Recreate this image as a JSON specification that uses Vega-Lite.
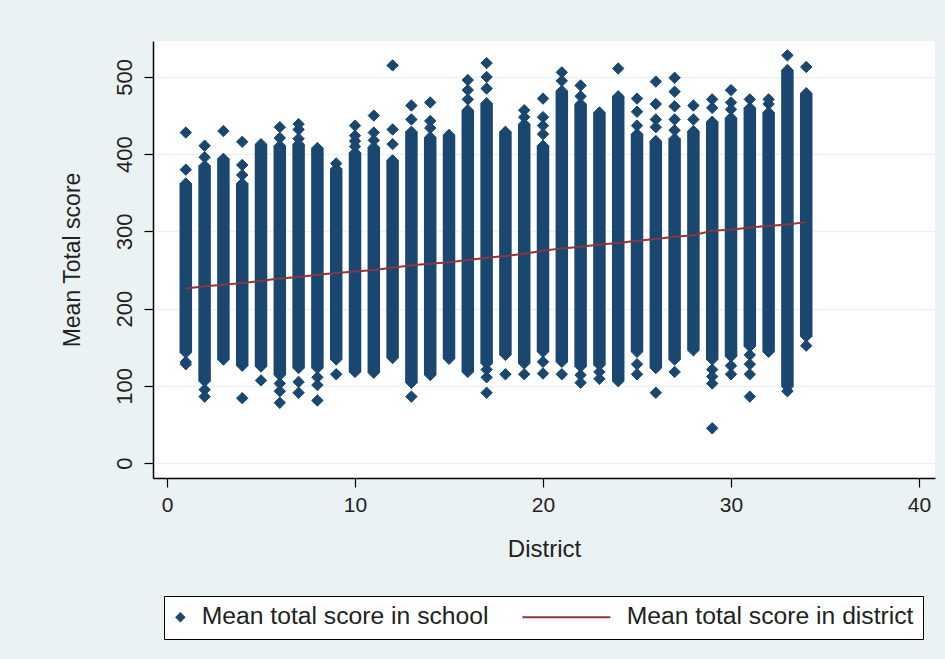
{"$schema":"https://vega.github.io/schema/vega-lite/v6.json","width":782,"height":437,"autosize":{"type":"none"},"padding":{"left":153,"top":41,"right":10,"bottom":181},"background":"#eaf2f3","view":{"fill":"white","stroke":null},
"config":{"font":"Liberation Sans"},
"datasets":{
"ranges":[{"district":1,"low":143,"high":362},{"district":2,"low":106,"high":385},{"district":3,"low":134,"high":394},{"district":4,"low":126,"high":362},{"district":5,"low":125,"high":413},{"district":6,"low":114,"high":411},{"district":7,"low":123,"high":413},{"district":8,"low":123,"high":408},{"district":9,"low":134,"high":381},{"district":10,"low":118,"high":402},{"district":11,"low":117,"high":409},{"district":12,"low":136,"high":392},{"district":13,"low":104,"high":429},{"district":14,"low":114,"high":422},{"district":15,"low":135,"high":425},{"district":16,"low":118,"high":457},{"district":17,"low":129,"high":466},{"district":18,"low":140,"high":429},{"district":19,"low":129,"high":439},{"district":20,"low":144,"high":411},{"district":21,"low":131,"high":482},{"district":22,"low":125,"high":465},{"district":23,"low":127,"high":454},{"district":24,"low":106,"high":475},{"district":25,"low":144,"high":426},{"district":26,"low":123,"high":417},{"district":27,"low":134,"high":420},{"district":28,"low":146,"high":430},{"district":29,"low":134,"high":442},{"district":30,"low":138,"high":447},{"district":31,"low":151,"high":460},{"district":32,"low":144,"high":454},{"district":33,"low":99,"high":509},{"district":34,"low":164,"high":479}],
"schools":[{"district":1,"score":428},{"district":1,"score":380},{"district":1,"score":362},{"district":1,"score":143},{"district":1,"score":131},{"district":1,"score":128},{"district":2,"score":411},{"district":2,"score":396},{"district":2,"score":385},{"district":2,"score":106},{"district":2,"score":95},{"district":2,"score":86},{"district":3,"score":430},{"district":3,"score":394},{"district":3,"score":134},{"district":4,"score":416},{"district":4,"score":386},{"district":4,"score":373},{"district":4,"score":362},{"district":4,"score":126},{"district":4,"score":84},{"district":5,"score":413},{"district":5,"score":125},{"district":5,"score":107},{"district":6,"score":435},{"district":6,"score":421},{"district":6,"score":411},{"district":6,"score":114},{"district":6,"score":103},{"district":6,"score":93},{"district":6,"score":78},{"district":7,"score":439},{"district":7,"score":432},{"district":7,"score":420},{"district":7,"score":413},{"district":7,"score":123},{"district":7,"score":105},{"district":7,"score":91},{"district":8,"score":408},{"district":8,"score":123},{"district":8,"score":111},{"district":8,"score":101},{"district":8,"score":81},{"district":9,"score":388},{"district":9,"score":381},{"district":9,"score":134},{"district":9,"score":115},{"district":10,"score":437},{"district":10,"score":424},{"district":10,"score":417},{"district":10,"score":410},{"district":10,"score":402},{"district":10,"score":118},{"district":11,"score":450},{"district":11,"score":428},{"district":11,"score":418},{"district":11,"score":409},{"district":11,"score":117},{"district":12,"score":515},{"district":12,"score":432},{"district":12,"score":413},{"district":12,"score":392},{"district":12,"score":136},{"district":13,"score":463},{"district":13,"score":445},{"district":13,"score":429},{"district":13,"score":104},{"district":13,"score":86},{"district":14,"score":467},{"district":14,"score":443},{"district":14,"score":434},{"district":14,"score":422},{"district":14,"score":114},{"district":15,"score":425},{"district":15,"score":135},{"district":16,"score":496},{"district":16,"score":483},{"district":16,"score":471},{"district":16,"score":457},{"district":16,"score":118},{"district":17,"score":518},{"district":17,"score":500},{"district":17,"score":485},{"district":17,"score":466},{"district":17,"score":129},{"district":17,"score":121},{"district":17,"score":111},{"district":17,"score":91},{"district":18,"score":429},{"district":18,"score":140},{"district":18,"score":115},{"district":19,"score":457},{"district":19,"score":448},{"district":19,"score":439},{"district":19,"score":129},{"district":19,"score":115},{"district":20,"score":472},{"district":20,"score":448},{"district":20,"score":437},{"district":20,"score":426},{"district":20,"score":411},{"district":20,"score":144},{"district":20,"score":131},{"district":20,"score":116},{"district":21,"score":506},{"district":21,"score":495},{"district":21,"score":482},{"district":21,"score":131},{"district":21,"score":115},{"district":22,"score":489},{"district":22,"score":475},{"district":22,"score":465},{"district":22,"score":125},{"district":22,"score":114},{"district":22,"score":104},{"district":23,"score":454},{"district":23,"score":127},{"district":23,"score":118},{"district":23,"score":109},{"district":24,"score":511},{"district":24,"score":475},{"district":24,"score":106},{"district":25,"score":472},{"district":25,"score":455},{"district":25,"score":437},{"district":25,"score":426},{"district":25,"score":144},{"district":25,"score":128},{"district":25,"score":115},{"district":26,"score":494},{"district":26,"score":465},{"district":26,"score":445},{"district":26,"score":435},{"district":26,"score":417},{"district":26,"score":123},{"district":26,"score":91},{"district":27,"score":499},{"district":27,"score":481},{"district":27,"score":462},{"district":27,"score":445},{"district":27,"score":431},{"district":27,"score":420},{"district":27,"score":134},{"district":27,"score":118},{"district":28,"score":463},{"district":28,"score":445},{"district":28,"score":430},{"district":28,"score":146},{"district":29,"score":471},{"district":29,"score":460},{"district":29,"score":442},{"district":29,"score":134},{"district":29,"score":121},{"district":29,"score":112},{"district":29,"score":103},{"district":29,"score":45},{"district":30,"score":483},{"district":30,"score":467},{"district":30,"score":458},{"district":30,"score":447},{"district":30,"score":138},{"district":30,"score":126},{"district":30,"score":115},{"district":31,"score":471},{"district":31,"score":460},{"district":31,"score":151},{"district":31,"score":140},{"district":31,"score":128},{"district":31,"score":115},{"district":31,"score":86},{"district":32,"score":471},{"district":32,"score":465},{"district":32,"score":454},{"district":32,"score":144},{"district":33,"score":528},{"district":33,"score":509},{"district":33,"score":99},{"district":33,"score":93},{"district":34,"score":513},{"district":34,"score":479},{"district":34,"score":164},{"district":34,"score":152}],
"means":[{"district":1,"mean":226},{"district":2,"mean":229},{"district":3,"mean":231},{"district":4,"mean":233},{"district":5,"mean":236},{"district":6,"mean":239},{"district":7,"mean":241},{"district":8,"mean":244},{"district":9,"mean":246},{"district":10,"mean":248},{"district":11,"mean":250},{"district":12,"mean":253},{"district":13,"mean":256},{"district":14,"mean":258},{"district":15,"mean":260},{"district":16,"mean":263},{"district":17,"mean":266},{"district":18,"mean":268},{"district":19,"mean":271},{"district":20,"mean":275},{"district":21,"mean":278},{"district":22,"mean":280},{"district":23,"mean":283},{"district":24,"mean":285},{"district":25,"mean":288},{"district":26,"mean":290},{"district":27,"mean":293},{"district":28,"mean":295},{"district":29,"mean":301},{"district":30,"mean":302},{"district":31,"mean":305},{"district":32,"mean":307},{"district":33,"mean":309},{"district":34,"mean":312}]
},
"layer":[
{"data":{"name":"ranges"},"mark":{"type":"rule","strokeWidth":12.5,"color":"#1a476f","strokeCap":"butt"},
"encoding":{"x":{"field":"district","type":"quantitative","scale":{"domain":[-0.745,40.85],"nice":false,"zero":false},
"axis":{"title":"District","values":[0,10,20,30,40],"grid":false,"domainColor":"#000000","domainWidth":1.5,"tickColor":"#000000","tickSize":9,"tickWidth":1.2,"labelFontSize":21,"labelColor":"#222222","labelPadding":7,"titleFontSize":24,"titleFontWeight":"normal","titleColor":"#222222","titlePadding":22}},
"y":{"field":"low","type":"quantitative","scale":{"domain":[-19.4,546.6],"nice":false,"zero":false},
"axis":{"title":"Mean Total score","values":[0,100,200,300,400,500],"grid":true,"gridColor":"#eaf2f3","gridWidth":1.5,"domainColor":"#000000","domainWidth":1.5,"tickColor":"#000000","tickSize":9,"tickWidth":1.2,"labelFontSize":22,"labelAngle":-90,"labelAlign":"center","labelBaseline":"bottom","labelColor":"#222222","labelPadding":8,"titleFontSize":23,"titleFontWeight":"normal","titleColor":"#222222","titlePadding":29}},
"y2":{"field":"high"}}},
{"data":{"name":"schools"},"mark":{"type":"point","shape":"diamond","filled":true,"size":130,"opacity":1,"stroke":"#1a476f","strokeWidth":1},
"encoding":{"x":{"field":"district","type":"quantitative"},"y":{"field":"score","type":"quantitative"},
"fill":{"datum":"Mean total score in school","type":"nominal","scale":{"domain":["Mean total score in school"],"range":["#1a476f"]},
"legend":{"title":null,"orient":"none","legendX":11,"legendY":555,"zindex":2,"padding":9,"labelFontSize":24.7,"labelLimit":500,"labelColor":"#222222","symbolType":"diamond","symbolSize":110,"symbolStrokeWidth":0,"symbolOffset":-5,"labelOffset":9}}}},
{"data":{"name":"means"},"mark":{"type":"line","strokeWidth":2,"interpolate":"linear"},
"encoding":{"x":{"field":"district","type":"quantitative"},"y":{"field":"mean","type":"quantitative"},
"stroke":{"datum":"Mean total score in district","type":"nominal","scale":{"domain":["Mean total score in district"],"range":["#90353b"]},
"legend":{"title":null,"orient":"none","legendX":11,"legendY":555,"zindex":1,"fillColor":"white","strokeColor":"#000000","padding":9,"labelFontSize":24.7,"labelLimit":500,"labelColor":"#222222","symbolType":"M-8.8,0L8.8,0","symbolSize":100,"symbolStrokeWidth":2,"symbolOffset":381,"labelOffset":48}}}}
]}
